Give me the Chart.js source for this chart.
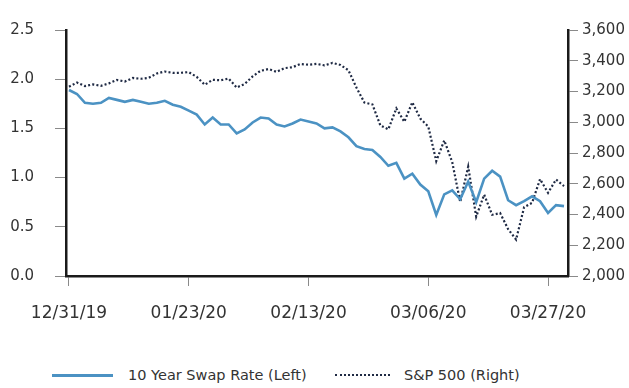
<!DOCTYPE html>
<html>
<head>
<meta charset="utf-8">
<script src="https://cdn.jsdelivr.net/npm/chart.js@4.4.0/dist/chart.umd.min.js"></script>
<style>
  html, body { margin: 0; padding: 0; background: #fff; }
  #wrap { position: relative; width: 629px; height: 388px; overflow: hidden; }
  #plot { position: absolute; left: 0; top: 0; width: 629px; height: 340px; }
  .lg-line { position: absolute; }
  .lg-text { position: absolute; font: 14.5px "DejaVu Sans", sans-serif; color: #333; line-height: 18px; white-space: nowrap; }
</style>
</head>
<body>
<div id="wrap">
  <div id="plot"><canvas id="cv"></canvas></div>
  <div class="lg-line" style="left:52px;top:374px;width:61px;height:0;border-top:3px solid #4b92c3;"></div>
  <div class="lg-text" style="left:128px;top:366px;">10 Year Swap Rate (Left)</div>
  <div class="lg-line" style="left:335px;top:374px;width:55px;height:0;border-top:2px dotted #1f2a44;"></div>
  <div class="lg-text" style="left:404px;top:366px;">S&amp;P 500 (Right)</div>
</div>
<script>
// trading days, 12/31/19 – 03/31/20
const dates = [
  '12/31/19',
  '01/02/20','01/03/20','01/06/20','01/07/20','01/08/20','01/09/20','01/10/20','01/13/20','01/14/20','01/15/20',
  '01/16/20','01/17/20','01/21/20','01/22/20','01/23/20','01/24/20','01/27/20','01/28/20','01/29/20','01/30/20','01/31/20',
  '02/03/20','02/04/20','02/05/20','02/06/20','02/07/20','02/10/20','02/11/20','02/12/20','02/13/20','02/14/20',
  '02/18/20','02/19/20','02/20/20','02/21/20','02/24/20','02/25/20','02/26/20','02/27/20','02/28/20',
  '03/02/20','03/03/20','03/04/20','03/05/20','03/06/20','03/09/20','03/10/20','03/11/20','03/12/20','03/13/20',
  '03/16/20','03/17/20','03/18/20','03/19/20','03/20/20','03/23/20','03/24/20','03/25/20','03/26/20','03/27/20',
  '03/30/20','03/31/20'
];

// 10 year swap rate, %
const swapRate = [
  1.89,
  1.85, 1.76, 1.75, 1.76, 1.81, 1.79, 1.77, 1.79, 1.77, 1.75,
  1.76, 1.78, 1.74, 1.72, 1.68, 1.64, 1.54, 1.61, 1.54, 1.54, 1.45,
  1.49, 1.56, 1.61, 1.60, 1.54, 1.52, 1.55, 1.59, 1.57, 1.55,
  1.50, 1.51, 1.47, 1.41, 1.32, 1.29, 1.28, 1.21, 1.12,
  1.15, 0.99, 1.04, 0.93, 0.86, 0.62, 0.83, 0.87, 0.78, 0.96,
  0.75, 0.99, 1.07, 1.01, 0.77, 0.72, 0.76, 0.81, 0.76, 0.64,
  0.72, 0.71
];

// S&P 500 close
const sp500 = [
  3231,
  3258, 3235, 3246, 3237, 3253, 3275, 3265, 3288, 3283, 3289,
  3317, 3330, 3321, 3322, 3326, 3295, 3244, 3276, 3273, 3284, 3226,
  3249, 3298, 3335, 3346, 3328, 3352, 3358, 3379, 3374, 3380,
  3370, 3386, 3373, 3338, 3226, 3128, 3116, 2979, 2954,
  3090, 3003, 3130, 3024, 2972, 2747, 2882, 2741, 2481, 2711,
  2386, 2529, 2398, 2409, 2305, 2237, 2447, 2476, 2630, 2541,
  2627, 2585
];

const xTickDates = ['12/31/19', '01/23/20', '02/13/20', '03/06/20', '03/27/20'];
const leftTicks = [0, 0.5, 1.0, 1.5, 2.0, 2.5];
const rightTicks = [2000, 2200, 2400, 2600, 2800, 3000, 3200, 3400, 3600];

const textColor = '#333';
const tickLineColor = '#8a8a8a';
const axisColor = '#1a1a1a';

const toPoints = (arr) => arr.map((v, i) => ({ x: i, y: v }));

new Chart(document.getElementById('cv'), {
  type: 'line',
  data: {
    datasets: [
      {
        label: '10 Year Swap Rate (Left)',
        data: toPoints(swapRate),
        yAxisID: 'yL',
        borderColor: '#4b92c3',
        borderWidth: 2.6,
        pointRadius: 0,
        tension: 0
      },
      {
        label: 'S&P 500 (Right)',
        data: toPoints(sp500),
        yAxisID: 'yR',
        borderColor: '#1f2a44',
        borderWidth: 2.2,
        borderDash: [2, 2.2],
        pointRadius: 0,
        tension: 0
      }
    ]
  },
  options: {
    responsive: true,
    maintainAspectRatio: false,
    animation: false,
    layout: { padding: { top: 20, left: 0, right: 0, bottom: 0 } },
    plugins: { legend: { display: false }, tooltip: { enabled: false } },
    scales: {
      x: {
        type: 'linear',
        min: -0.375,
        max: 62.5,
        afterBuildTicks: (s) => { s.ticks = xTickDates.map(d => ({ value: dates.indexOf(d) })); },
        afterFit: (s) => { s.height = 64; },
        ticks: {
          autoSkip: false,
          padding: 17,
          maxRotation: 0,
          color: textColor,
          font: { family: 'DejaVu Sans', size: 17 },
          callback: (v) => dates[v]
        },
        grid: { drawOnChartArea: false, drawTicks: true, tickLength: 10, tickColor: tickLineColor, tickWidth: 1 },
        border: { display: true, color: axisColor, width: 2.5 }
      },
      yL: {
        position: 'left',
        min: 0,
        max: 2.5,
        afterBuildTicks: (s) => { s.ticks = leftTicks.map(v => ({ value: v })); },
        afterFit: (s) => { s.width = 66; },
        ticks: {
          padding: 21,
          color: textColor,
          font: { family: 'DejaVu Sans', size: 15 },
          callback: (v) => v.toFixed(1)
        },
        grid: { drawOnChartArea: false, drawTicks: true, tickLength: 11, tickColor: tickLineColor, tickWidth: 1 },
        border: { display: true, color: axisColor, width: 2.5 }
      },
      yR: {
        position: 'right',
        min: 2000,
        max: 3600,
        afterBuildTicks: (s) => { s.ticks = rightTicks.map(v => ({ value: v })); },
        afterFit: (s) => { s.width = 61; },
        ticks: {
          padding: 4,
          color: textColor,
          font: { family: 'DejaVu Sans', size: 15 },
          callback: (v) => v.toLocaleString('en-US')
        },
        grid: { drawOnChartArea: false, drawTicks: true, tickLength: 10, tickColor: tickLineColor, tickWidth: 1 },
        border: { display: true, color: axisColor, width: 2.5 }
      }
    }
  }
});
</script>
</body>
</html>
